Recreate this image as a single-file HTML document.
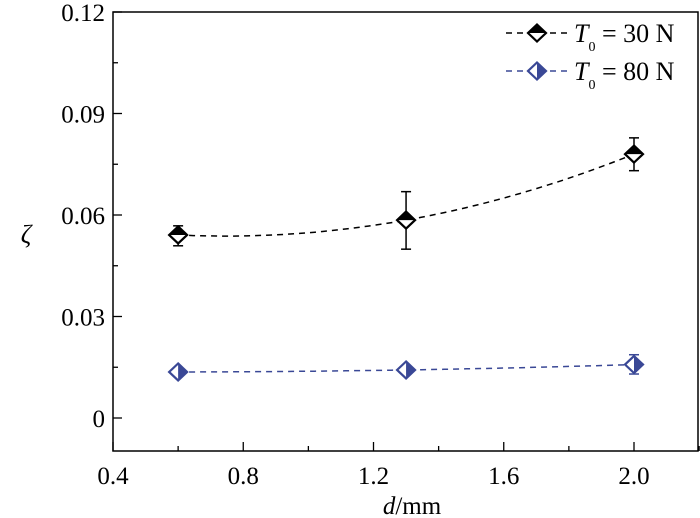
<!DOCTYPE html>
<html><head><meta charset="utf-8"><style>
html,body{margin:0;padding:0;background:#fff;}
svg{display:block;font-family:"Liberation Serif",serif;}
</style></head><body>
<svg id="chart" width="700" height="518" viewBox="0 0 700 518"></svg>
<script>
const xs = [0.6, 1.3, 2.0];
const s30 = [0.0541, 0.0585, 0.0780];
const s30lo = [0.0509, 0.0499, 0.0731];
const s30hi = [0.0568, 0.0669, 0.0828];
const s80 = [0.0136, 0.0142, 0.0158];
const s80lo = [0.0125, 0.0132, 0.0130];
const s80hi = [0.0147, 0.0152, 0.0187];
const xTicks = [0.4, 0.8, 1.2, 1.6, 2.0];
const xTickLabels = ["0.4", "0.8", "1.2", "1.6", "2.0"];
const yTicks = [0, 0.03, 0.06, 0.09, 0.12];
const yTickLabels = ["0", "0.03", "0.06", "0.09", "0.12"];

const L=113,R=698,T=12,B=451;
const X = v => 113 + (v-0.4)*(634-113)/1.6;
const Y = v => 418 - v*(418-12)/0.12;
const NS="http://www.w3.org/2000/svg";
const svg=document.getElementById('chart');
function el(tag,attrs,parent){const e=document.createElementNS(NS,tag);for(const k in attrs)e.setAttribute(k,attrs[k]);(parent||svg).appendChild(e);return e;}

const frame=el('rect',{x:L,y:T,width:R-L,height:B-T,fill:'none',stroke:'#000','stroke-width':1.5});



xTicks.forEach((v,i)=>{
  const t=el('line',{x1:X(v),x2:X(v),y1:B,y2:B-9,stroke:'#000','stroke-width':1.3});
  
  
  const m=el('line',{x1:X(v+0.2),x2:X(v+0.2),y1:B,y2:B-5,stroke:'#000','stroke-width':1.3});
  
  
  const tx=el('text',{x:X(v),y:B+33,'text-anchor':'middle','font-size':25});
  tx.textContent=xTickLabels[i];
  
  
});
yTicks.forEach((v,i)=>{
  const t=el('line',{x1:L,x2:L+9,y1:Y(v),y2:Y(v),stroke:'#000','stroke-width':1.3});
  
  
  if(v<0.12){
    const m=el('line',{x1:L,x2:L+5,y1:Y(v+0.015),y2:Y(v+0.015),stroke:'#000','stroke-width':1.3});
    
    
  }
  const tx=el('text',{x:L-8,y:Y(v)+9,'text-anchor':'end','font-size':25});
  tx.textContent=yTickLabels[i];
  
  
});

const yt=el('text',{x:26,y:243,'text-anchor':'middle','font-size':26,'font-style':'italic'});
yt.textContent='ζ';


const xt=el('text',{x:412,y:514,'text-anchor':'middle','font-size':25});
xt.innerHTML='<tspan font-style="italic">d</tspan>/mm';



function curve(ys){
  const h=xs[1]-xs[0];
  const a=(ys[2]-2*ys[1]+ys[0])/(2*h*h);
  const b=(ys[2]-ys[0])/(2*h);
  let d='';
  for(let k=0;k<=60;k++){const x=xs[0]+(xs[2]-xs[0])*k/60;const u=x-xs[1];const y=ys[1]+b*u+a*u*u;d+=(k?'L':'M')+X(x).toFixed(1)+','+Y(y).toFixed(1);}
  return d;
}
function series(ys,lo,hi,color,name,blue){
  const p=el('path',{d:curve(ys),fill:'none',stroke:color,'stroke-width':1.5,'stroke-dasharray':'6,5'});
  
  
  xs.forEach((x,i)=>{
    const g=el('g',{});
    
    
    const cx=X(x);
    el('line',{x1:cx,x2:cx,y1:Y(lo[i]),y2:Y(hi[i]),stroke:color,'stroke-width':1.5},g);
    el('line',{x1:cx-5,x2:cx+5,y1:Y(lo[i]),y2:Y(lo[i]),stroke:color,'stroke-width':1.5},g);
    el('line',{x1:cx-5,x2:cx+5,y1:Y(hi[i]),y2:Y(hi[i]),stroke:color,'stroke-width':1.5},g);
    marker(g,cx,Y(ys[i]),color,blue);
  });
}
function marker(g,cx,cy,color,blue){
  const w=9,h=8.5;
  el('path',{d:`M${cx},${cy-h}L${cx+w},${cy}L${cx},${cy+h}L${cx-w},${cy}Z`,fill:'#fff',stroke:'none'},g);
  if(blue) el('path',{d:`M${cx},${cy-h}L${cx+w},${cy}L${cx},${cy+h}Z`,fill:color},g);
  else el('path',{d:`M${cx-w},${cy}L${cx},${cy-h}L${cx+w},${cy}Z`,fill:color},g);
  el('path',{d:`M${cx},${cy-h}L${cx+w},${cy}L${cx},${cy+h}L${cx-w},${cy}Z`,fill:'none',stroke:color,'stroke-width':2.2},g);
}
series(s30,s30lo,s30hi,'#000','series-30n',false);
series(s80,s80lo,s80hi,'#3a4896','series-80n',true);

function legend(y,color,label,blue,name){
  const g=el('g',{});
  
  
  el('line',{x1:506,x2:568,y1:y,y2:y,stroke:color,'stroke-width':1.5,'stroke-dasharray':'6,5'},g);
  marker(g,537,y,color,blue);
  const t=el('text',{x:574,y:y+9,'font-size':26},g);
  t.innerHTML='<tspan font-style="italic">T</tspan><tspan font-size="14" dy="9">0</tspan><tspan dy="-9"> = '+label+'</tspan>';
}
legend(33,'#000','30 N',false,'legend-entry-30n');
legend(71,'#3a4896','80 N',true,'legend-entry-80n');
</script>
</body></html>
